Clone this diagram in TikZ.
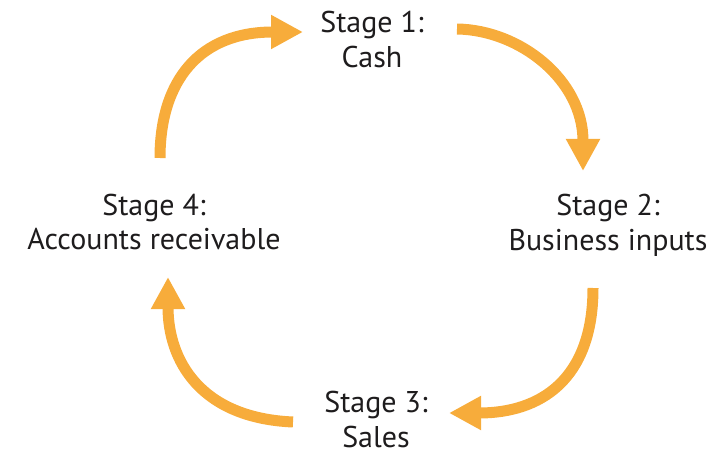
\documentclass[tikz,border=0pt]{standalone}
\usepackage{fontspec}
\setmainfont{PT Sans}
\usetikzlibrary{arrows.meta}
\definecolor{cycleorange}{HTML}{F7AC3B}
\definecolor{labelink}{HTML}{1E1C1D}
\tikzset{
  stagelabel/.style={align=center, text=labelink, inner sep=0pt,
    font=\fontsize{30}{35}\selectfont},
  cyclearrow/.style={draw=cycleorange, line width=11pt,
    -{Triangle[length=32pt,width=32pt]}}
}
\begin{document}
\begin{tikzpicture}[x=1pt,y=-1pt]
  \useasboundingbox (0,0) rectangle (712,457);
  % stage labels
  \node[stagelabel] (s1) at (372,40) {Stage 1:\\Cash};
  \node[stagelabel] (s2) at (608,225) {Stage 2:\\Business inputs};
  \node[stagelabel] (s3) at (376,419) {Stage 3:\\Sales};
  \node[stagelabel] (s4) at (154,222) {Stage 4:\\Accounts receivable};
  % arrow end points around the cycle
  \coordinate (a1s) at (160,158);
  \coordinate (a1e) at (303,32);
  \coordinate (a2s) at (457,29);
  \coordinate (a2e) at (583,171);
  \coordinate (a3s) at (593,288);
  \coordinate (a3e) at (449,413);
  \coordinate (a4s) at (293,422);
  \coordinate (a4e) at (168,277);
  % curved arrows
  \draw[cyclearrow] (a1s) .. controls (160,80) and (200,32) .. (a1e);
  \draw[cyclearrow] (a2s) .. controls (520,30) and (583,80) .. (a2e);
  \draw[cyclearrow] (a3s) .. controls (593,380) and (540,413) .. (a3e);
  \draw[cyclearrow] (a4s) .. controls (200,418) and (168,360) .. (a4e);
\end{tikzpicture}
\end{document}
